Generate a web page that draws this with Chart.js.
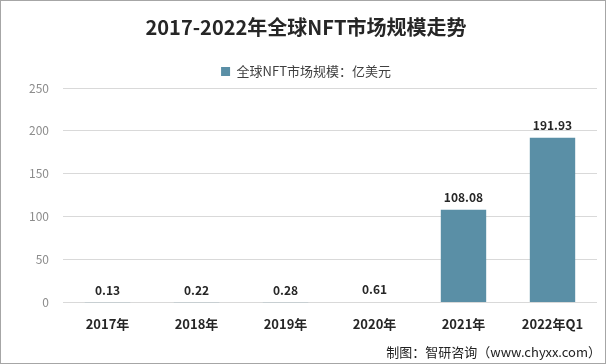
<!DOCTYPE html>
<html>
<head>
<meta charset="utf-8">
<script src="https://cdn.jsdelivr.net/npm/chart.js@4"></script>
<style>
  body { margin: 0; background: #fff; }
  #wrap { position: relative; width: 604px; height: 362px; border: 1px solid #a6a6a6; }
  #footer { position: absolute; right: 4px; bottom: 2px; font: 13px "Noto Sans CJK SC", sans-serif; color: #222; }
</style>
</head>
<body>
<div id="wrap">
  <canvas id="nftChart" width="604" height="362"></canvas>
  <div id="footer">制图：智研咨询（www.chyxx.com）</div>
</div>
<script>
// chart data
const years = ['2017年', '2018年', '2019年', '2020年', '2021年', '2022年Q1'];
const marketSize = [0.13, 0.22, 0.28, 0.61, 108.08, 191.93];
const yTicks = [0, 50, 100, 150, 200, 250];

const FONT = '"Noto Sans CJK SC", sans-serif';

// draws the value above each bar
const valueLabels = {
    id: 'valueLabels',
    afterDatasetsDraw(chart) {
        const ctx = chart.ctx;
        const meta = chart.getDatasetMeta(0);
        ctx.save();
        ctx.font = 'bold 12px ' + FONT;
        ctx.fillStyle = '#262626';
        ctx.textAlign = 'center';
        ctx.textBaseline = 'bottom';
        meta.data.forEach((bar, i) => {
            ctx.fillText(marketSize[i].toFixed(2), bar.x, bar.y - 6);
        });
        ctx.restore();
    }
};

var ctx = document.getElementById('nftChart').getContext('2d');
var nftChart = new Chart(ctx, {
    type: 'bar',
    data: {
        labels: years,
        datasets: [{
            label: '全球NFT市场规模：亿美元',
            data: marketSize,
            backgroundColor: '#5a8fa6',
            categoryPercentage: 1,
            barPercentage: 0.51
        }]
    },
    options: {
        responsive: false,
        animation: false,
        layout: { padding: { left: 14, right: 8, top: 6, bottom: 25 } },
        plugins: {
            title: {
                display: true,
                text: '2017-2022年全球NFT市场规模走势',
                color: '#262626',
                font: { family: FONT, size: 20, weight: 'bold' },
                padding: { top: 8, bottom: 20 }
            },
            legend: {
                labels: {
                    boxWidth: 9,
                    boxHeight: 9,
                    padding: 6,
                    color: '#404040',
                    font: { family: FONT, size: 13 }
                }
            },
            tooltip: { enabled: false }
        },
        scales: {
            y: {
                min: 0,
                max: 250,
                afterBuildTicks: axis => { axis.ticks = yTicks.map(v => ({ value: v })); },
                border: { display: false },
                grid: { color: '#d9d9d9', drawTicks: false },
                ticks: { color: '#8c8c8c', padding: 14, font: { family: FONT, size: 12 } }
            },
            x: {
                border: { display: false },
                grid: { display: false },
                ticks: { color: '#262626', padding: 6, font: { family: FONT, size: 13, weight: 'bold' } }
            }
        }
    },
    plugins: [valueLabels]
});
</script>
</body>
</html>
